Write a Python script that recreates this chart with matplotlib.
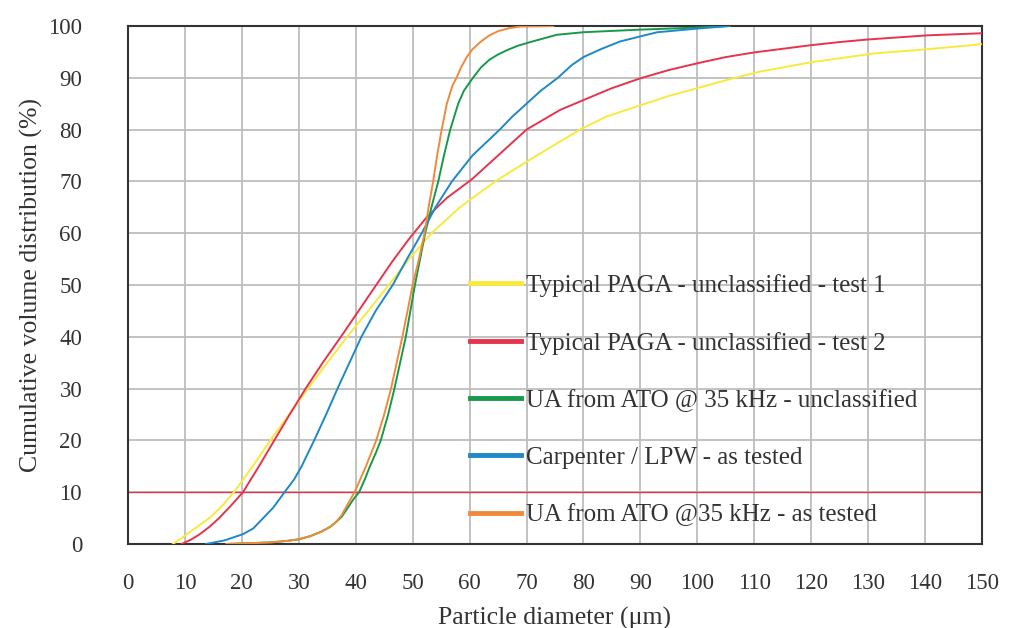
import matplotlib.pyplot as plt

# Datos (diametro um, % acumulado)
paga1_x = [7.9, 9.5, 11, 12.5, 14.3, 16.5, 18.6, 21.9, 25, 28.3, 31.6, 35, 38.5, 42.2,
           45.8, 49.4, 53.3, 58.3, 64.5, 71.8, 79.4, 84, 90, 95, 100, 106.3, 111, 120,
           131, 140.3, 150]
paga1_y = [0, 1.2, 2.4, 3.6, 5, 7.3, 10, 15, 20, 25, 30, 35, 40, 45,
           50, 55, 60, 65, 70, 75, 80, 82.5, 84.7, 86.5, 88, 89.9, 91.2, 93,
           94.7, 95.5, 96.5]

paga2_x = [9.4, 11, 12.5, 14.3, 16, 18, 20.2, 23, 25.7, 28.4, 31.2, 34.2, 37.4, 40.5,
           43.6, 46.4, 49.3, 52.4, 56, 60.4, 65, 70, 75.9, 80, 85, 90, 95, 100, 105,
           110, 115, 120, 125, 130, 140.5, 150]
paga2_y = [0, 0.8, 1.8, 3.3, 5, 7.3, 10, 15, 20, 25, 30, 35, 40, 45,
           50, 54.5, 58.8, 63, 66.8, 70.4, 75, 80, 83.8, 85.7, 88, 89.9, 91.5, 92.8, 94,
           94.9, 95.6, 96.3, 96.9, 97.4, 98.2, 98.6]

ato_unc_x = [17.3, 20, 25, 28, 30, 32, 34, 35.5, 36.5, 37.5, 38.5, 39.5, 40.6, 41.6,
             42.5, 43.5, 44.4, 45.7, 46.8, 47.8, 48.8, 49.6, 50.4, 51.3, 52.2, 53.3,
             54.5, 55.5, 56.6, 58, 59, 60.6, 62, 63.5, 65, 66.5, 68.5, 71, 75.3, 80,
             90, 100, 105.7]
ato_unc_y = [0, 0.1, 0.3, 0.6, 0.9, 1.5, 2.4, 3.3, 4.2, 5.2, 6.8, 8.5, 10, 12.5,
             15, 17.5, 20, 25, 30, 35, 40, 45, 50, 55, 60, 65,
             70, 75, 80, 85, 87.5, 90, 92, 93.5, 94.5, 95.3, 96.2, 97, 98.3, 98.8,
             99.3, 99.7, 100]

lpw_x = [13.7, 17, 20.2, 22, 23.4, 25.5, 27.5, 29.2, 30.5, 32.7, 34.8, 36.8, 38.9,
         41, 43.5, 46.5, 49, 51.6, 54, 56.9, 60.5, 65.3, 67.5, 70, 72.5, 75.5, 78,
         80, 83, 86.4, 90, 93, 100, 105.6]
lpw_y = [0, 0.7, 1.9, 3, 4.6, 7, 10, 12.5, 15, 20, 25, 30, 35,
         40, 45, 50, 55, 60, 65, 70, 75, 80, 82.5, 85, 87.5, 90, 92.5,
         94, 95.5, 97, 98, 98.8, 99.5, 100]

ato_test_x = [17.3, 20, 25, 28, 30, 32, 34, 35.5, 36.5, 37.5, 38.5, 39.8, 40.8, 41.8,
              42.7, 43.6, 45, 46.2, 47.2, 48.2, 49.1, 50, 51.1, 52.1, 52.8, 53.6, 54.3,
              55.1, 56, 57, 57.7, 58.5, 59.5, 60.5, 62, 63.5, 65, 67, 69, 74.7]
ato_test_y = [0, 0.1, 0.3, 0.6, 0.9, 1.5, 2.4, 3.3, 4.2, 5.5, 7.5, 10, 12.5, 15,
              17.5, 20, 25, 30, 35, 40, 45, 50, 55, 60, 65, 70, 75,
              80, 85, 88.5, 90, 92, 94, 95.5, 97, 98.2, 99, 99.6, 99.9, 100]

series = [
    (paga1_x, paga1_y, '#f8ea3c', 'Typical PAGA - unclassified - test 1'),
    (paga2_x, paga2_y, '#e5344c', 'Typical PAGA - unclassified - test 2'),
    (ato_unc_x, ato_unc_y, '#17994a', 'UA from ATO @ 35 kHz - unclassified'),
    (lpw_x, lpw_y, '#1f88c6', 'Carpenter / LPW - as tested'),
    (ato_test_x, ato_test_y, '#f08a3a', 'UA from ATO @35 kHz - as tested'),
]

plt.rcParams['font.family'] = ['Liberation Serif', 'DejaVu Serif']

fig = plt.figure(figsize=(10.11, 6.28), dpi=100)
ax = fig.add_axes([0.1266, 0.1338, 0.8447, 0.8248])

ax.axhline(10, color='#e5344c', lw=1.0, zorder=2)
for xs, ys, color, label in series:
    ax.plot(xs, ys, color=color, lw=1.4, label=label, zorder=3)

ax.set_xlim(0, 150)
ax.set_ylim(0, 100)
ax.set_xticks(range(0, 151, 10))
ax.set_yticks(range(0, 101, 10))
ax.grid(True, color='#bdbdbd', lw=1.3, zorder=0)
ax.set_axisbelow(True)
ax.tick_params(axis='both', length=0, labelsize=16.5, colors='#333333')
ax.tick_params(axis='x', pad=21)
ax.tick_params(axis='y', pad=33)
for sp in ax.spines.values():
    sp.set_color('#333333')
    sp.set_linewidth(1.5)

ax.set_xlabel('Particle diameter (\u03bcm)', fontsize=18.5, color='#333333', labelpad=9)
ax.set_ylabel('Cumulative volume distribution (%)', fontsize=18.5, color='#333333', labelpad=4)

leg = ax.legend(loc='upper left', bbox_to_anchor=(0.4005, 0.521), frameon=False,
                fontsize=18, handlelength=2.05, handletextpad=0.17, labelspacing=1.38,
                borderpad=0, borderaxespad=0)
for line in leg.get_lines():
    line.set_linewidth(3.5)
for t in leg.get_texts():
    t.set_color('#333333')

plt.savefig('out.png', dpi=100)
plt.close()
